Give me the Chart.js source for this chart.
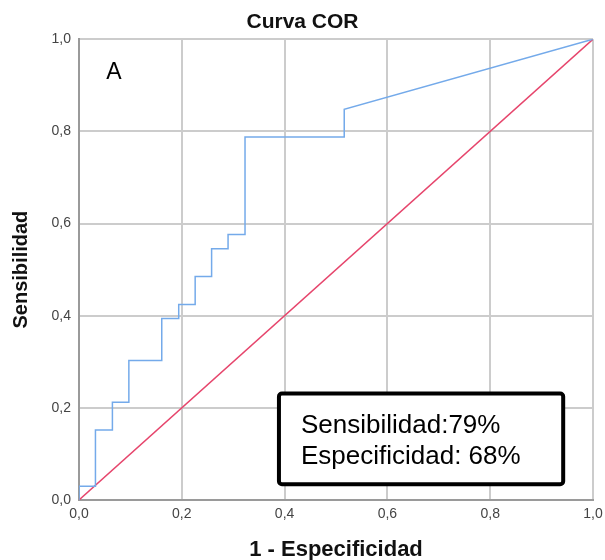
<!DOCTYPE html>
<html>
<head>
<meta charset="utf-8">
<script src="https://cdn.jsdelivr.net/npm/chart.js@4.4.1/dist/chart.umd.min.js"></script>
<style>
  html, body { margin: 0; padding: 0; background: #fff; }
  #wrap { width: 605px; height: 560px; }
</style>
</head>
<body>
<div id="wrap"><canvas id="roc" width="605" height="560"></canvas></div>
<script>
// ROC curve points (1 - especificidad, sensibilidad)
var fpr = [0, 0, 0.032, 0.032, 0.065, 0.065, 0.097, 0.097, 0.161, 0.161, 0.194, 0.194,
  0.226, 0.226, 0.258, 0.258, 0.290, 0.290, 0.323, 0.323, 0.516, 0.516, 1];
var tpr = [0, 0.030, 0.030, 0.152, 0.152, 0.212, 0.212, 0.303, 0.303, 0.394, 0.394, 0.424,
  0.424, 0.485, 0.485, 0.545, 0.545, 0.576, 0.576, 0.788, 0.788, 0.848, 1];
// reference line
var refX = [0, 1];
var refY = [0, 1];
var tickValues = [0, 0.2, 0.4, 0.6, 0.8, 1.0];
var boxLines = ['Sensibilidad:79%', 'Especificidad: 68%'];
var panelLabel = 'A';

var FONT = '"Liberation Sans", Arial, sans-serif';

function toPoints(xs, ys) {
  var pts = [];
  for (var i = 0; i < xs.length; i++) {
    pts.push({ x: xs[i], y: ys[i] });
  }
  return pts;
}

function fmt(v) {
  return Number(v).toFixed(1).replace('.', ',');
}

// draws the "A" and the result box on top of the plot
var notesPlugin = {
  id: 'notes',
  afterDatasetsDraw: function (chart) {
    var ctx = chart.ctx;
    var xs = chart.scales.x, ys = chart.scales.y;
    ctx.save();

    ctx.fillStyle = '#000';
    ctx.font = '23px ' + FONT;
    ctx.textAlign = 'center';
    ctx.textBaseline = 'middle';
    ctx.fillText(panelLabel, xs.getPixelForValue(0.068), ys.getPixelForValue(0.927));

    var l = xs.getPixelForValue(0.389), r = xs.getPixelForValue(0.942);
    var t = ys.getPixelForValue(0.231), b = ys.getPixelForValue(0.034);
    ctx.beginPath();
    ctx.roundRect(l, t, r - l, b - t, 3);
    ctx.fillStyle = '#fff';
    ctx.fill();
    ctx.lineWidth = 4;
    ctx.strokeStyle = '#000';
    ctx.stroke();

    ctx.fillStyle = '#000';
    ctx.font = '26px ' + FONT;
    ctx.textAlign = 'left';
    ctx.textBaseline = 'alphabetic';
    ctx.fillText(boxLines[0], l + 22, t + 39);
    ctx.fillText(boxLines[1], l + 22, t + 70);
    ctx.restore();
  }
};

new Chart(document.getElementById('roc'), {
  type: 'scatter',
  data: {
    datasets: [
      {
        label: 'Curva',
        data: toPoints(fpr, tpr),
        showLine: true,
        borderColor: '#74aaea',
        borderWidth: 1.5,
        pointRadius: 0,
        fill: false,
        order: 1
      },
      {
        label: 'Referencia',
        data: toPoints(refX, refY),
        showLine: true,
        borderColor: '#e6456c',
        borderWidth: 1.5,
        pointRadius: 0,
        fill: false,
        order: 2
      }
    ]
  },
  options: {
    responsive: false,
    animation: false,
    layout: { padding: { top: 0, right: 0, left: 0, bottom: 0 } },
    plugins: {
      legend: { display: false },
      tooltip: { enabled: false },
      title: {
        display: true,
        text: 'Curva COR',
        color: '#111',
        font: { family: FONT, size: 21, weight: 'bold', lineHeight: 1.2 },
        padding: { top: 10, bottom: 4 }
      }
    },
    scales: {
      x: {
        type: 'linear',
        min: 0,
        max: 1,
        afterFit: function (scale) {
          scale.height = 60;
          scale.paddingRight = 12;
          scale.paddingLeft = 0;
        },
        afterBuildTicks: function (scale) {
          scale.ticks = tickValues.map(function (v) { return { value: v }; });
        },
        ticks: {
          callback: fmt,
          color: '#444',
          padding: 6,
          maxRotation: 0,
          font: { family: FONT, size: 14 }
        },
        grid: { color: '#cccccc', lineWidth: 2, drawTicks: false },
        border: { color: '#9a9a9a', width: 2 },
        title: {
          display: true,
          text: '1 - Especificidad',
          color: '#111',
          font: { family: FONT, size: 22, weight: 'bold', lineHeight: 1 },
          padding: { top: 0, bottom: -1 }
        }
      },
      y: {
        type: 'linear',
        min: 0,
        max: 1,
        afterFit: function (scale) {
          scale.width = 79;
          scale.paddingTop = 0;
          scale.paddingBottom = 0;
        },
        afterBuildTicks: function (scale) {
          scale.ticks = tickValues.map(function (v) { return { value: v }; });
        },
        ticks: {
          callback: fmt,
          color: '#444',
          padding: 8,
          font: { family: FONT, size: 14 }
        },
        grid: { color: '#cccccc', lineWidth: 2, drawTicks: false },
        border: { color: '#9a9a9a', width: 2 },
        title: {
          display: true,
          text: 'Sensibilidad',
          color: '#111',
          font: { family: FONT, size: 20, weight: 'bold', lineHeight: 1.2 },
          padding: { top: 9, bottom: 0 }
        }
      }
    }
  },
  plugins: [notesPlugin]
});
</script>
</body>
</html>
